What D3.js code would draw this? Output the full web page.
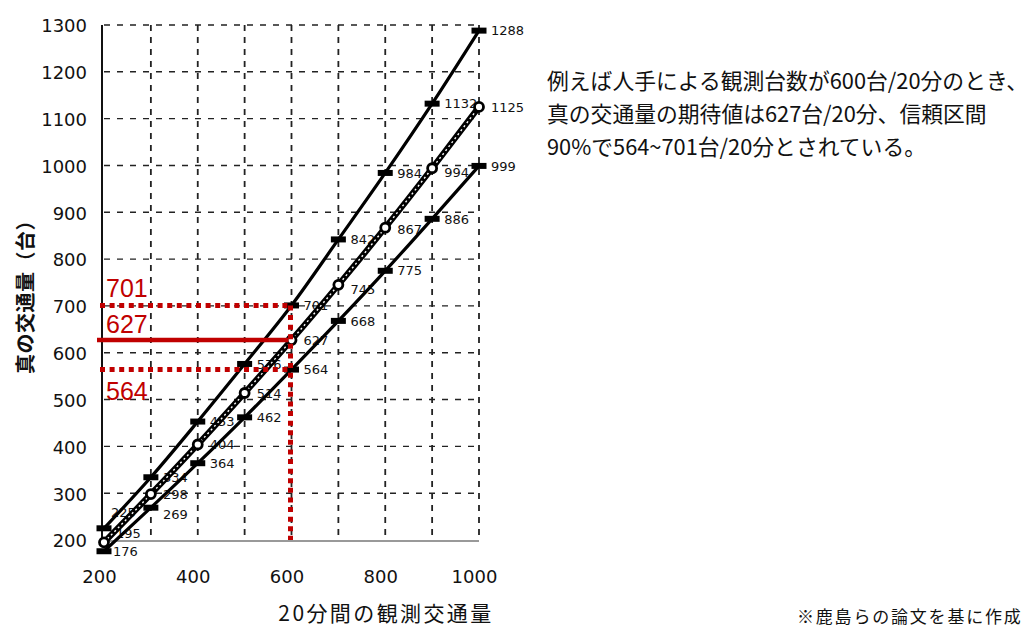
<!DOCTYPE html>
<html lang="ja">
<head>
<meta charset="utf-8">
<script src="https://cdn.jsdelivr.net/npm/d3@7/dist/d3.min.js"></script>
<style>
  html, body { margin: 0; padding: 0; background: #fff; }
  svg { display: block; }
</style>
</head>
<body>
<svg id="chart" width="1027" height="627"></svg>
<script>
// Observed 20-minute counts (x) and the estimated true volume (y)
const observed = [200, 300, 400, 500, 600, 700, 800, 900, 1000];
const upperBound = [225, 334, 453, 576, 701, 842, 984, 1132, 1288];
const expected = [195, 298, 404, 514, 627, 745, 867, 994, 1125];
const lowerBound = [176, 269, 364, 462, 564, 668, 775, 886, 999];

const xTickValues = [200, 400, 600, 800, 1000];
const yTickValues = [200, 300, 400, 500, 600, 700, 800, 900, 1000, 1100, 1200, 1300];
const xGridValues = [300, 400, 500, 600, 700, 800, 900, 1000];
const yGridValues = [300, 400, 500, 600, 700, 800, 900, 1000, 1100, 1200, 1300];

// Worked example: 600 vehicles observed
const exampleObserved = 600;
const exampleExpected = 627;
const exampleLow = 564;
const exampleHigh = 701;

const xTitle = "20分間の観測交通量";
const yTitle = "真の交通量（台）";
const noteLines = [
  "例えば人手による観測台数が600台/20分のとき、",
  "真の交通量の期待値は627台/20分、信頼区間",
  "90%で564~701台/20分とされている。"
];
const sourceNote = "※鹿島らの論文を基に作成";

const RED = "#c00000";
const svg = d3.select("#chart");

const x = d3.scaleLinear().domain([200, 1000]).range([104, 479]);
const y = d3.scaleLinear().domain([200, 1300]).range([540, 25]);

// ---- grid ----
const grid = svg.append("g").attr("stroke", "#222").attr("fill", "none");
grid.selectAll("line.v").data(xGridValues).join("line")
  .attr("class", "v")
  .attr("x1", d => x(d)).attr("x2", d => x(d))
  .attr("y1", y(1300)).attr("y2", y(200))
  .attr("stroke-width", 1.8).attr("stroke-dasharray", "6,6");
grid.selectAll("line.h").data(yGridValues).join("line")
  .attr("class", "h")
  .attr("x1", x(200)).attr("x2", x(1000))
  .attr("y1", d => y(d)).attr("y2", d => y(d))
  .attr("stroke-width", 1.4).attr("stroke-dasharray", "6,7");

// axes frame: solid left edge, grey bottom edge
svg.append("line")
  .attr("x1", x(200) - 2).attr("x2", x(200) - 2)
  .attr("y1", y(1300)).attr("y2", y(200) + 2)
  .attr("stroke", "#111").attr("stroke-width", 2);
svg.append("line")
  .attr("x1", x(200) - 2).attr("x2", x(1000))
  .attr("y1", y(200) + 1).attr("y2", y(200) + 1)
  .attr("stroke", "#777").attr("stroke-width", 1.5);

// ---- tick labels via d3 axes (lines hidden, only text kept) ----
const xAxis = svg.append("g")
  .attr("transform", `translate(-5,${y(200)})`)
  .call(d3.axisBottom(x).tickValues(xTickValues).tickSize(0).tickPadding(30).tickFormat(d3.format("d")));
const yAxis = svg.append("g")
  .attr("transform", `translate(${x(200) - 17},0)`)
  .call(d3.axisLeft(y).tickValues(yTickValues).tickSize(0).tickPadding(0).tickFormat(d3.format("d")));
[xAxis, yAxis].forEach(g => {
  g.select(".domain").remove();
  g.selectAll("text")
    .attr("font-family", "'DejaVu Sans', sans-serif")
    .attr("font-size", 18)
    .attr("fill", "#111");
});
yAxis.selectAll("text").attr("dy", "0.38em");

// axis titles
svg.append("text")
  .attr("x", 386).attr("y", 621)
  .attr("text-anchor", "middle")
  .attr("font-family", "'Noto Sans CJK JP', sans-serif")
  .attr("font-size", 21).attr("letter-spacing", 2.4)
  .attr("fill", "#111")
  .text(xTitle);
svg.append("text")
  .attr("transform", `translate(33,292) rotate(-90)`)
  .attr("text-anchor", "middle")
  .attr("font-family", "'Noto Sans CJK JP', sans-serif")
  .attr("font-size", 20).attr("font-weight", 700).attr("letter-spacing", 0.5)
  .attr("fill", "#111")
  .text(yTitle);

// ---- value labels (drawn under the curves) ----
const series = [
  { key: "upper", values: upperBound },
  { key: "mid", values: expected },
  { key: "lower", values: lowerBound }
];
// nudges for labels that would otherwise collide near the origin
const labelNudge = {
  "upper-0": [7, -16],
  "mid-0": [12, -9],
  "lower-0": [9, 0],
  "lower-1": [12, 7],
  "mid-6": [12, 2],
  "mid-5": [12, 4],
  "mid-7": [12, 4]
};
const labelData = [];
series.forEach(s => s.values.forEach((v, i) => {
  const n = labelNudge[`${s.key}-${i}`] || [12, 0];
  labelData.push({ px: x(observed[i]) + n[0], py: y(v) + n[1], v });
}));
svg.append("g").selectAll("text").data(labelData).join("text")
  .attr("x", d => d.px).attr("y", d => d.py)
  .attr("dy", "0.36em")
  .attr("font-family", "'DejaVu Sans', sans-serif")
  .attr("font-size", 13)
  .attr("fill", "#111")
  .text(d => d.v);

// ---- curves ----
const lineOf = vals => d3.line()
  .x((d, i) => x(observed[i]))
  .y(d => y(d))
  .curve(d3.curveMonotoneX)(vals);

svg.append("path").attr("d", lineOf(upperBound))
  .attr("fill", "none").attr("stroke", "#000").attr("stroke-width", 3.2);
svg.append("path").attr("d", lineOf(lowerBound))
  .attr("fill", "none").attr("stroke", "#000").attr("stroke-width", 3.2);
svg.append("path").attr("d", lineOf(expected))
  .attr("fill", "none").attr("stroke", "#000").attr("stroke-width", 6);
svg.append("path").attr("d", lineOf(expected))
  .attr("fill", "none").attr("stroke", "#fff").attr("stroke-width", 1.4)
  .attr("stroke-dasharray", "2,3");

// ---- markers ----
const bars = [...upperBound.map((v, i) => [observed[i], v]), ...lowerBound.map((v, i) => [observed[i], v])];
svg.append("g").selectAll("rect").data(bars).join("rect")
  .attr("x", d => x(d[0]) - 7.5).attr("y", d => y(d[1]) - 3)
  .attr("width", 15).attr("height", 6)
  .attr("fill", "#000");
svg.append("g").selectAll("circle").data(expected).join("circle")
  .attr("cx", (d, i) => x(observed[i])).attr("cy", d => y(d))
  .attr("r", 4.5)
  .attr("fill", "#fff").attr("stroke", "#000").attr("stroke-width", 2.8);

// ---- worked example overlay ----
const red = svg.append("g");
const xL = x(200) - 4, xR = x(exampleObserved);
red.append("line")
  .attr("x1", xL).attr("x2", xR)
  .attr("y1", y(exampleHigh)).attr("y2", y(exampleHigh))
  .attr("stroke", RED).attr("stroke-width", 5).attr("stroke-dasharray", "5,4.6");
red.append("line")
  .attr("x1", xL).attr("x2", xR)
  .attr("y1", y(exampleLow)).attr("y2", y(exampleLow))
  .attr("stroke", RED).attr("stroke-width", 5).attr("stroke-dasharray", "5,4.6");
red.append("line")
  .attr("x1", xL - 3).attr("x2", xR - 3)
  .attr("y1", y(exampleExpected)).attr("y2", y(exampleExpected))
  .attr("stroke", RED).attr("stroke-width", 4.5);
red.append("line")
  .attr("x1", xR - 1).attr("x2", xR - 1)
  .attr("y1", y(exampleHigh)).attr("y2", y(200))
  .attr("stroke", RED).attr("stroke-width", 5).attr("stroke-dasharray", "5,4.6");

const redLabels = [
  { v: exampleHigh, dy: -8 },
  { v: exampleExpected, dy: -7 },
  { v: exampleLow, dy: 30 }
];
red.selectAll("text").data(redLabels).join("text")
  .attr("x", x(200) + 2).attr("y", d => y(d.v) + d.dy)
  .attr("font-family", "'Liberation Sans', Arial, sans-serif")
  .attr("font-size", 25)
  .attr("fill", RED)
  .text(d => d.v);

// ---- explanatory note ----
svg.append("g").selectAll("text").data(noteLines).join("text")
  .attr("x", 547).attr("y", (d, i) => 89 + i * 33)
  .attr("font-family", "'Noto Sans CJK JP', sans-serif")
  .attr("font-size", 21.8)
  .attr("fill", "#111")
  .text(d => d);

svg.append("text")
  .attr("x", 797).attr("y", 623)
  .attr("font-family", "'Noto Sans CJK JP', sans-serif")
  .attr("font-size", 17).attr("letter-spacing", 1.8)
  .attr("fill", "#111")
  .text(sourceNote);
</script>
</body>
</html>
